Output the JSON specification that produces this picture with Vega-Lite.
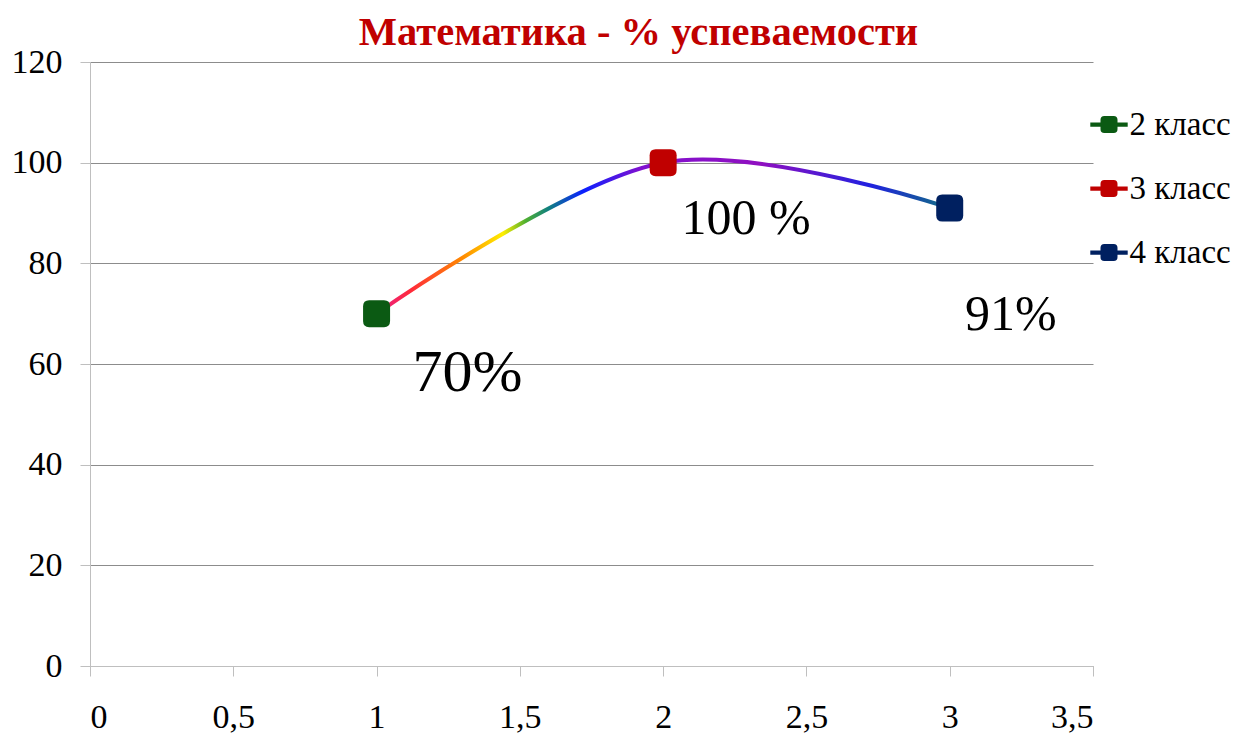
{
  "$schema": "https://vega.github.io/schema/vega-lite/v6.json",
  "autosize": "none",
  "width": 1003,
  "height": 604,
  "padding": {"left": 90, "top": 62, "right": 144, "bottom": 67},
  "background": "white",
  "title": "Математика - % успеваемости",
  "config": {
    "font": "Liberation Serif",
    "view": {"stroke": null},
    "title": {
      "font": "Liberation Serif",
      "fontSize": 40.5,
      "fontWeight": "bold",
      "color": "#c00000",
      "anchor": "middle",
      "offset": -8,
      "dx": 47
    },
    "axis": {
      "labelFont": "Liberation Serif",
      "labelFontSize": 34,
      "labelColor": "#000000",
      "domainColor": "#bfbfbf",
      "tickColor": "#bfbfbf",
      "tickSize": 10,
      "gridColor": "#8c8c8c",
      "gridOpacity": 1
    },
    "legend": {
      "labelFont": "Liberation Serif",
      "labelFontSize": 33,
      "labelColor": "#000000"
    }
  },
  "data": {
    "values": [
      {"x": 1, "y": 70, "cls": "2 класс", "label": "70%"},
      {"x": 2, "y": 100, "cls": "3 класс", "label": "100 %"},
      {"x": 3, "y": 91, "cls": "4 класс", "label": "91%"}
    ]
  },
  "encoding": {
    "x": {
      "field": "x",
      "type": "quantitative",
      "scale": {"domain": [0, 3.5], "nice": false, "zero": false},
      "axis": {
        "title": null,
        "values": [0, 0.5, 1, 1.5, 2, 2.5, 3, 3.5],
        "grid": false,
        "labelPadding": 24,
        "labelExpr": "replace(toString(datum.value), '.', ',')"
      }
    },
    "y": {
      "field": "y",
      "type": "quantitative",
      "scale": {"domain": [0, 120], "nice": false},
      "axis": {
        "title": null,
        "values": [0, 20, 40, 60, 80, 100, 120],
        "grid": true,
        "labelPadding": 18
      }
    }
  },
  "layer": [
    {
      "mark": {
        "type": "line",
        "interpolate": "cardinal",
        "strokeWidth": 4,
        "stroke": {
          "gradient": "linear",
          "x1": 0, "y1": 0, "x2": 1, "y2": 0,
          "stops": [
            {"offset": 0, "color": "#e8208c"},
            {"offset": 0.06, "color": "#ff2a3a"},
            {"offset": 0.15, "color": "#ff8a00"},
            {"offset": 0.22, "color": "#ffee00"},
            {"offset": 0.26, "color": "#50b030"},
            {"offset": 0.3, "color": "#108080"},
            {"offset": 0.36, "color": "#0a20ff"},
            {"offset": 0.46, "color": "#8010d0"},
            {"offset": 0.67, "color": "#9010c0"},
            {"offset": 0.86, "color": "#2020e0"},
            {"offset": 1, "color": "#107080"}
          ]
        }
      }
    },
    {
      "mark": {
        "type": "point",
        "filled": true,
        "opacity": 1,
        "size": 729,
        "shape": "M -1 -0.55 Q -1 -1 -0.55 -1 L 0.55 -1 Q 1 -1 1 -0.55 L 1 0.55 Q 1 1 0.55 1 L -0.55 1 Q -1 1 -1 0.55 Z"
      },
      "encoding": {
        "color": {
          "field": "cls",
          "type": "nominal",
          "scale": {
            "domain": ["2 класс", "3 класс", "4 класс"],
            "range": ["#0b5a13", "#c00000", "#002060"]
          },
          "legend": {
            "title": null,
            "orient": "none",
            "legendX": 1002.5,
            "legendY": 46,
            "padding": 0,
            "symbolType": "M -2.2 -0.25 L 2.2 -0.25 L 2.2 0.25 L -2.2 0.25 Z M -1 -0.55 Q -1 -1 -0.55 -1 L 0.55 -1 Q 1 -1 1 -0.55 L 1 0.55 Q 1 1 0.55 1 L -0.55 1 Q -1 1 -1 0.55 Z",
            "symbolSize": 289,
            "symbolOpacity": 1,
            "symbolStrokeWidth": 0,
            "labelOffset": 4,
            "rowPadding": 30
          }
        }
      }
    },
    {
      "transform": [{"filter": "datum.x == 1"}],
      "mark": {"type": "text", "font": "Liberation Serif", "fontSize": 60, "color": "#000000", "align": "center", "baseline": "alphabetic", "dx": 91, "dy": 77},
      "encoding": {"text": {"field": "label"}}
    },
    {
      "transform": [{"filter": "datum.x == 2"}],
      "mark": {"type": "text", "font": "Liberation Serif", "fontSize": 50, "color": "#000000", "align": "center", "baseline": "alphabetic", "dx": 83, "dy": 71},
      "encoding": {"text": {"field": "label"}}
    },
    {
      "transform": [{"filter": "datum.x == 3"}],
      "mark": {"type": "text", "font": "Liberation Serif", "fontSize": 50, "color": "#000000", "align": "center", "baseline": "alphabetic", "dx": 61, "dy": 122},
      "encoding": {"text": {"field": "label"}}
    }
  ]
}
